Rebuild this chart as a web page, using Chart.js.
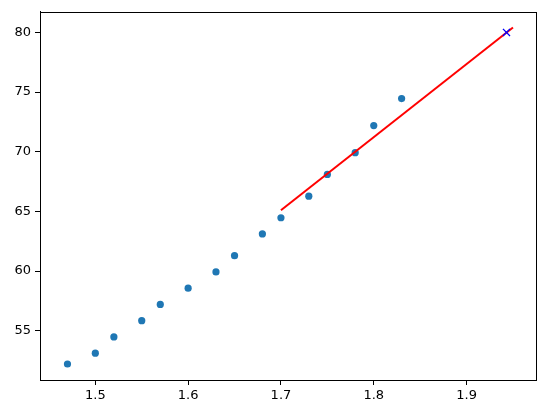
<!DOCTYPE html>
<html><head><meta charset="utf-8">
<script src="https://cdn.jsdelivr.net/npm/chart.js@4/dist/chart.umd.min.js"></script>
<style>html,body{margin:0;padding:0;background:#fff}#wrap{width:544px;height:412px}</style>
</head><body><div id="wrap"><canvas id="c" width="544" height="412"></canvas></div>
<script>
const heights = [1.47,1.50,1.52,1.55,1.57,1.60,1.63,1.65,1.68,1.70,1.73,1.75,1.78,1.80,1.83];
const weights = [52.21,53.12,54.48,55.84,57.20,58.57,59.93,61.29,63.11,64.47,66.28,68.10,69.92,72.19,74.46];
const lineX = [1.70, 1.95];
const lineY = [65.10, 80.42];
const predX = [1.943];
const predY = [80.0];
const xTicks = [1.5,1.6,1.7,1.8,1.9];
const yTicks = [55,60,65,70,75,80];

const frame = {id:'frame', afterDraw(c){const a=c.chartArea,x=c.ctx;x.save();x.strokeStyle='#000';x.lineWidth=1;x.strokeRect(Math.round(a.left)+0.5,Math.round(a.top)+0.5,Math.round(a.right-a.left),Math.round(a.bottom-a.top));x.restore();}};
const font = {family:'DejaVu Sans', size:13};
new Chart(document.getElementById('c'), {
  type:'scatter',
  data:{datasets:[
    {data:heights.map((h,i)=>({x:h,y:weights[i]})), backgroundColor:'#1f77b4', borderWidth:0, pointRadius:3.6, order:3},
    {type:'line', data:lineX.map((h,i)=>({x:h,y:lineY[i]})), borderColor:'#ff0000', borderWidth:2, pointRadius:0, fill:false, order:2},
    {data:predX.map((h,i)=>({x:h,y:predY[i]})), pointStyle:'crossRot', pointRadius:5, borderColor:'#0000ff', borderWidth:1.3, order:1}
  ]},
  options:{
    responsive:false, animation:false,
    layout:{padding:{left:0,right:8,top:11,bottom:0}},
    plugins:{legend:{display:false}, tooltip:{enabled:false}},
    scales:{
      x:{type:'linear', min:1.4404, max:1.9748,
        afterBuildTicks(s){s.ticks=xTicks.map(v=>({value:v}));},
        afterFit(s){s.height=32;},
        ticks:{color:'#000', font, padding:3, maxRotation:0, callback:v=>v.toFixed(1)},
        grid:{drawOnChartArea:false, tickLength:5, tickColor:'#000'},
        border:{color:'#000'}},
      y:{type:'linear', min:50.87, max:81.73,
        afterBuildTicks(s){s.ticks=yTicks.map(v=>({value:v}));},
        afterFit(s){s.width=40;},
        ticks:{color:'#000', font, padding:4, callback:v=>String(v)},
        grid:{drawOnChartArea:false, tickLength:5, tickColor:'#000'},
        border:{color:'#000'}}
    }
  },
  plugins:[frame]
});
</script></body></html>
